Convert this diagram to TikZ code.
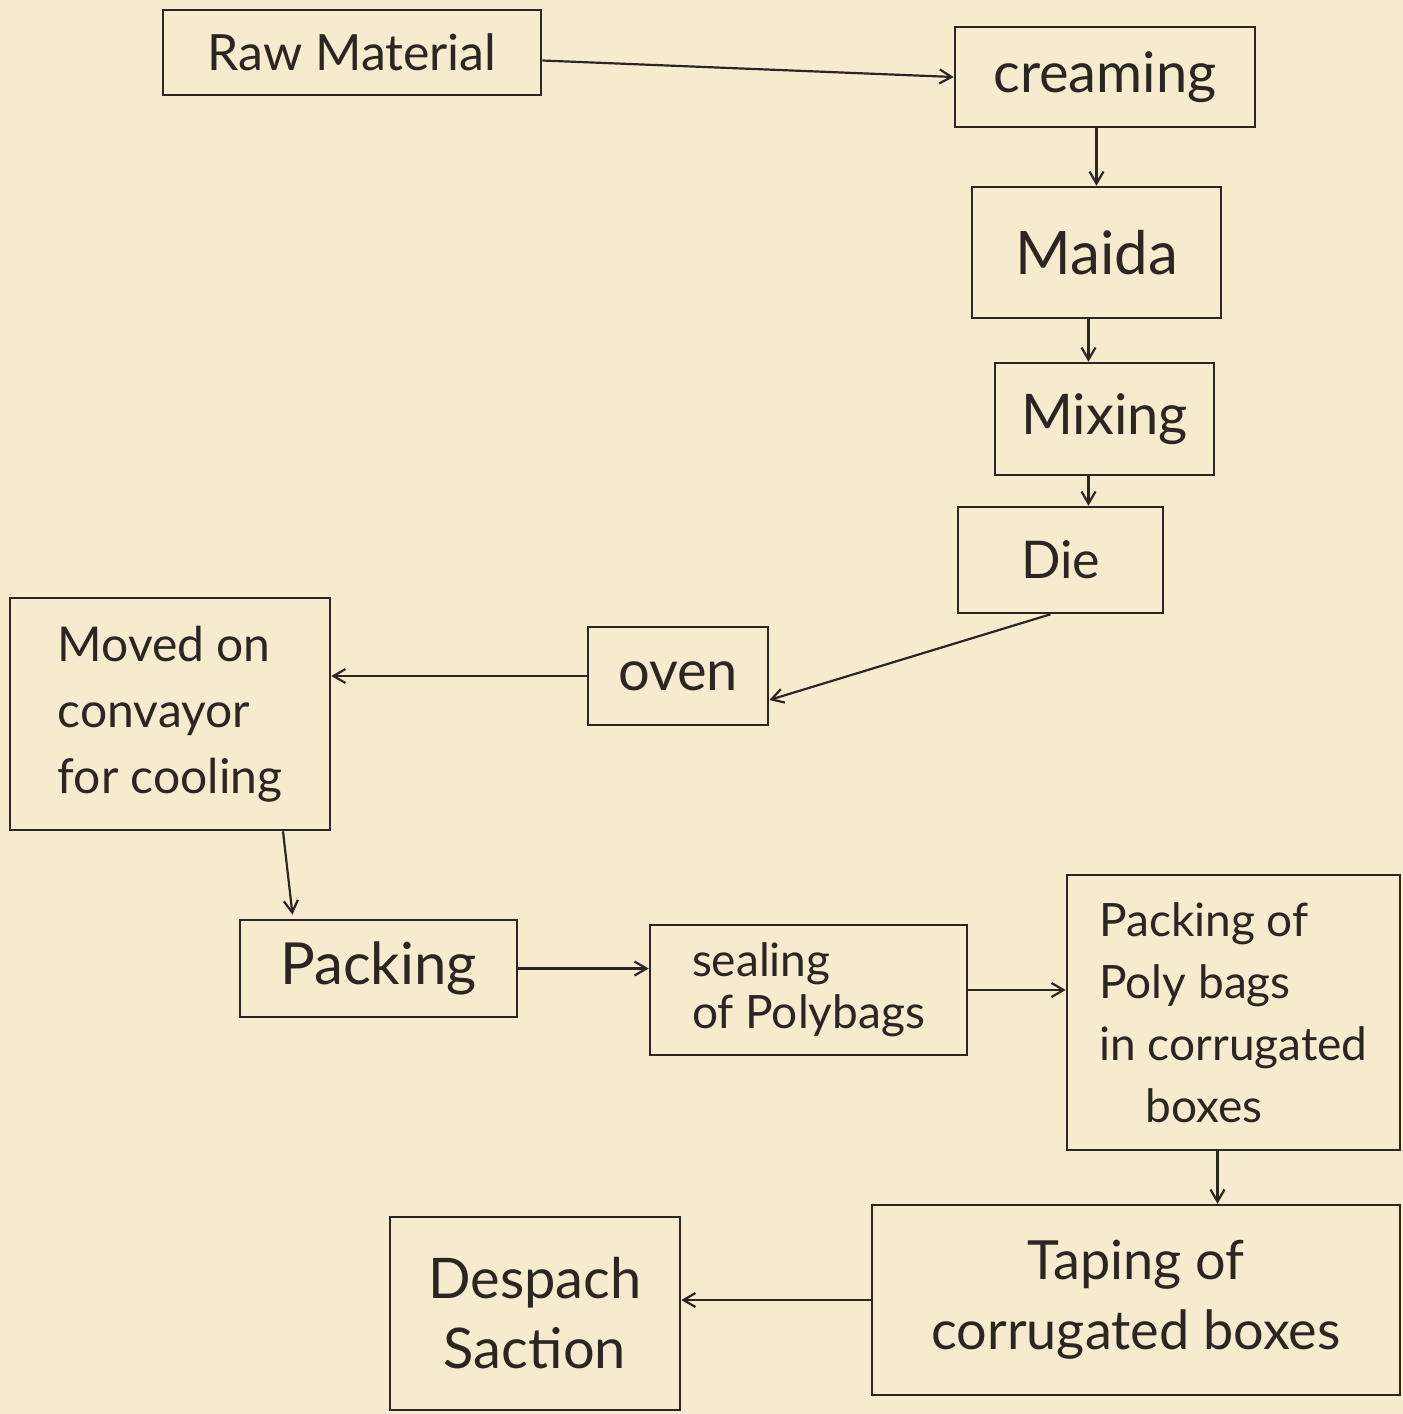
\documentclass[tikz,border=0pt]{standalone}
\usepackage{fontspec}
\setmainfont{Lato}
\usetikzlibrary{arrows.meta}
\definecolor{paper}{HTML}{F5ECCF}
\definecolor{ink}{HTML}{2B2620}
\tikzset{
  box/.style={draw=ink, line width=2.6pt, rectangle, inner sep=0pt, text=ink},
  flow/.style={draw=ink, line width=2.2pt, -{Straight Barb[length=12pt,width=14pt,line width=2.2pt]}},
  fs/.style={font=\fontsize{#1}{#1}\selectfont}
}
\begin{document}
\begin{tikzpicture}[x=1pt,y=-1pt]
\fill[paper] (0,0) rectangle (1403,1414);
\useasboundingbox (0,0) rectangle (1403,1414);
\node[box, minimum width=378pt, minimum height=85pt, fs=50] (raw) at (352,52.5) {Raw Material};
\node[box, minimum width=300pt, minimum height=100pt, fs=56] (cream) at (1105,77) {creaming};
\node[box, minimum width=249pt, minimum height=131pt, fs=60] (maida) at (1096.5,252.5) {Maida};
\node[box, minimum width=219pt, minimum height=112pt, fs=56] (mixing) at (1104.5,419) {Mixing};
\node[box, minimum width=205pt, minimum height=106pt, fs=52] (die) at (1060.5,560) {Die};
\node[box, minimum width=180pt, minimum height=98pt, fs=56] (oven) at (678,676) {oven};
\node[box, minimum width=320pt, minimum height=232pt, align=left, font=\fontsize{48}{66}\selectfont] (moved) at (170,714) {Moved on\\convayor\\for cooling};
\node[box, minimum width=277pt, minimum height=97pt, fs=58] (packing) at (378.5,968.5) {Packing};
\node[box, minimum width=317pt, minimum height=130pt, align=left, font=\fontsize{46}{52}\selectfont] (sealing) at (808.5,990) {sealing\\of Polybags};
\node[box, minimum width=333pt, minimum height=275pt, align=left, font=\fontsize{46}{62}\selectfont] (ppoly) at (1233.5,1012.5) {Packing of\\Poly bags\\in corrugated\\\quad boxes};
\node[box, minimum width=528pt, minimum height=190pt, align=center, font=\fontsize{54}{70}\selectfont] (taping) at (1136,1300) {Taping of\\corrugated boxes};
\node[box, minimum width=290pt, minimum height=193pt, align=center, font=\fontsize{56}{70}\selectfont] (desp) at (535,1313.5) {Despach\\Saction};
\draw[flow] ([yshift=-8pt]raw.east) -- (cream.west);
\draw[flow] (maida.north |- cream.south) -- (maida.north);
\draw[flow] ([xshift=-8pt]maida.south) -- ([xshift=-8pt]maida.south |- mixing.north);
\draw[flow] ([xshift=-16pt]mixing.south) -- ([xshift=-16pt]mixing.south |- die.north);
\draw[flow] ([xshift=-10pt]die.south) -- ([yshift=-24pt]oven.east);
\draw[flow] (oven.west) -- (oven.west -| moved.east);
\draw[flow] ([xshift=113pt]moved.south) -- ([xshift=-86pt,yshift=4pt]packing.north);
\draw[flow] (packing.east) -- (packing.east -| sealing.west);
\draw[flow] (sealing.east) -- (sealing.east -| ppoly.west);
\draw[flow] ([xshift=-16pt]ppoly.south) -- ([xshift=-16pt]ppoly.south |- taping.north);
\draw[flow] (taping.west) -- (taping.west -| desp.east);
\end{tikzpicture}
\end{document}
